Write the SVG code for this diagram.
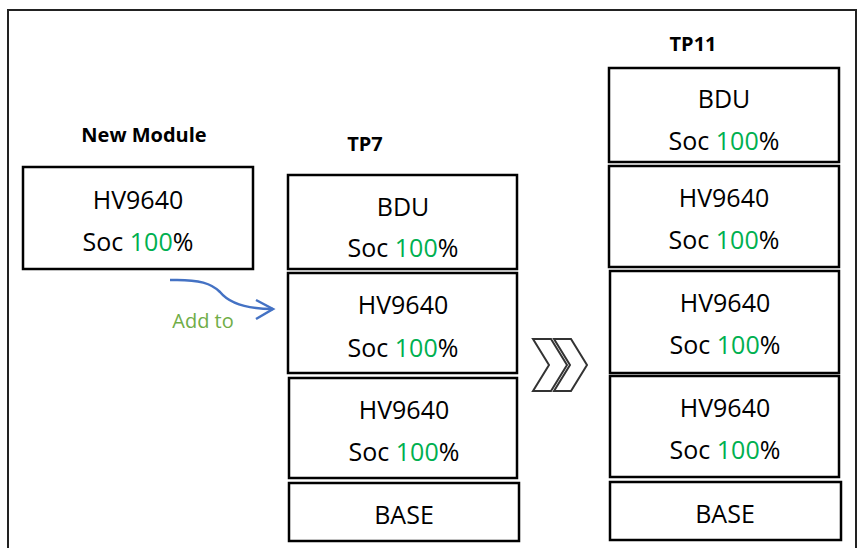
<svg xmlns="http://www.w3.org/2000/svg" width="861" height="548" viewBox="0 0 861 548">
<style>
.box{fill:#fff;stroke:#000;stroke-width:2.5}
.t{font-family:"Open Sans","Liberation Sans",sans-serif;font-size:25px;fill:#000;text-anchor:middle}
.g{fill:#00B050}
.h{font-family:"Open Sans","Liberation Sans",sans-serif;font-size:20px;font-weight:bold;fill:#000;text-anchor:middle}
.chev{fill:#fff;stroke:#333;stroke-width:2;stroke-linejoin:miter}
</style>
<rect width="861" height="548" fill="#fff"/>
<rect x="8" y="10" width="848" height="560" fill="none" stroke="#222" stroke-width="2"/>

<text class="h" x="144" y="142">New Module</text>
<text class="h" x="365" y="151">TP7</text>
<text class="h" x="693" y="51">TP11</text>

<g id="new-module">
<rect class="box" x="23" y="167" width="230" height="102"/>
<text class="t" x="138" y="209">HV9640</text>
<text class="t" x="138" y="251">Soc <tspan class="g">100</tspan>%</text>
</g>

<g id="tp7-bdu">
<rect class="box" x="288" y="175" width="229" height="94"/>
<text class="t" x="403" y="216">BDU</text>
<text class="t" x="403" y="257">Soc <tspan class="g">100</tspan>%</text>
</g>
<g id="tp7-hv1">
<rect class="box" x="288" y="273" width="229" height="100"/>
<text class="t" x="403" y="314">HV9640</text>
<text class="t" x="403" y="357">Soc <tspan class="g">100</tspan>%</text>
</g>
<g id="tp7-hv2">
<rect class="box" x="289" y="378" width="228" height="100"/>
<text class="t" x="404" y="419">HV9640</text>
<text class="t" x="404" y="461">Soc <tspan class="g">100</tspan>%</text>
</g>
<g id="tp7-base">
<rect class="box" x="289" y="483" width="230" height="58"/>
<text class="t" x="404" y="524">BASE</text>
</g>

<g id="tp11-bdu">
<rect class="box" x="609" y="68" width="230" height="94"/>
<text class="t" x="724" y="108">BDU</text>
<text class="t" x="724" y="150">Soc <tspan class="g">100</tspan>%</text>
</g>
<g id="tp11-hv1">
<rect class="box" x="609" y="166" width="230" height="101"/>
<text class="t" x="724" y="207">HV9640</text>
<text class="t" x="724" y="249">Soc <tspan class="g">100</tspan>%</text>
</g>
<g id="tp11-hv2">
<rect class="box" x="610" y="271" width="229" height="102"/>
<text class="t" x="725" y="312">HV9640</text>
<text class="t" x="725" y="354">Soc <tspan class="g">100</tspan>%</text>
</g>
<g id="tp11-hv3">
<rect class="box" x="610" y="376" width="229" height="101"/>
<text class="t" x="725" y="417">HV9640</text>
<text class="t" x="725" y="459">Soc <tspan class="g">100</tspan>%</text>
</g>
<g id="tp11-base">
<rect class="box" x="610" y="482" width="231" height="58"/>
<text class="t" x="725" y="523">BASE</text>
</g>

<g id="connectors">
<path d="M170,280 C200,279 212,284 220,292 C229,303 246,309 273,309" fill="none" stroke="#4472C4" stroke-width="2.5"/>
<path d="M256,300 L273,309 L256,319" fill="none" stroke="#4472C4" stroke-width="2.5" stroke-linejoin="miter"/>
<text x="203" y="328" font-family="Open Sans, Liberation Sans, sans-serif" font-size="20" fill="#70AD47" text-anchor="middle">Add to</text>
<polygon class="chev" points="533,339 551,339 567,365 551,391 533,391 549,365"/>
<polygon class="chev" points="554,339 571,339 587,365 571,391 554,391 570,365"/>
</g>
</svg>
